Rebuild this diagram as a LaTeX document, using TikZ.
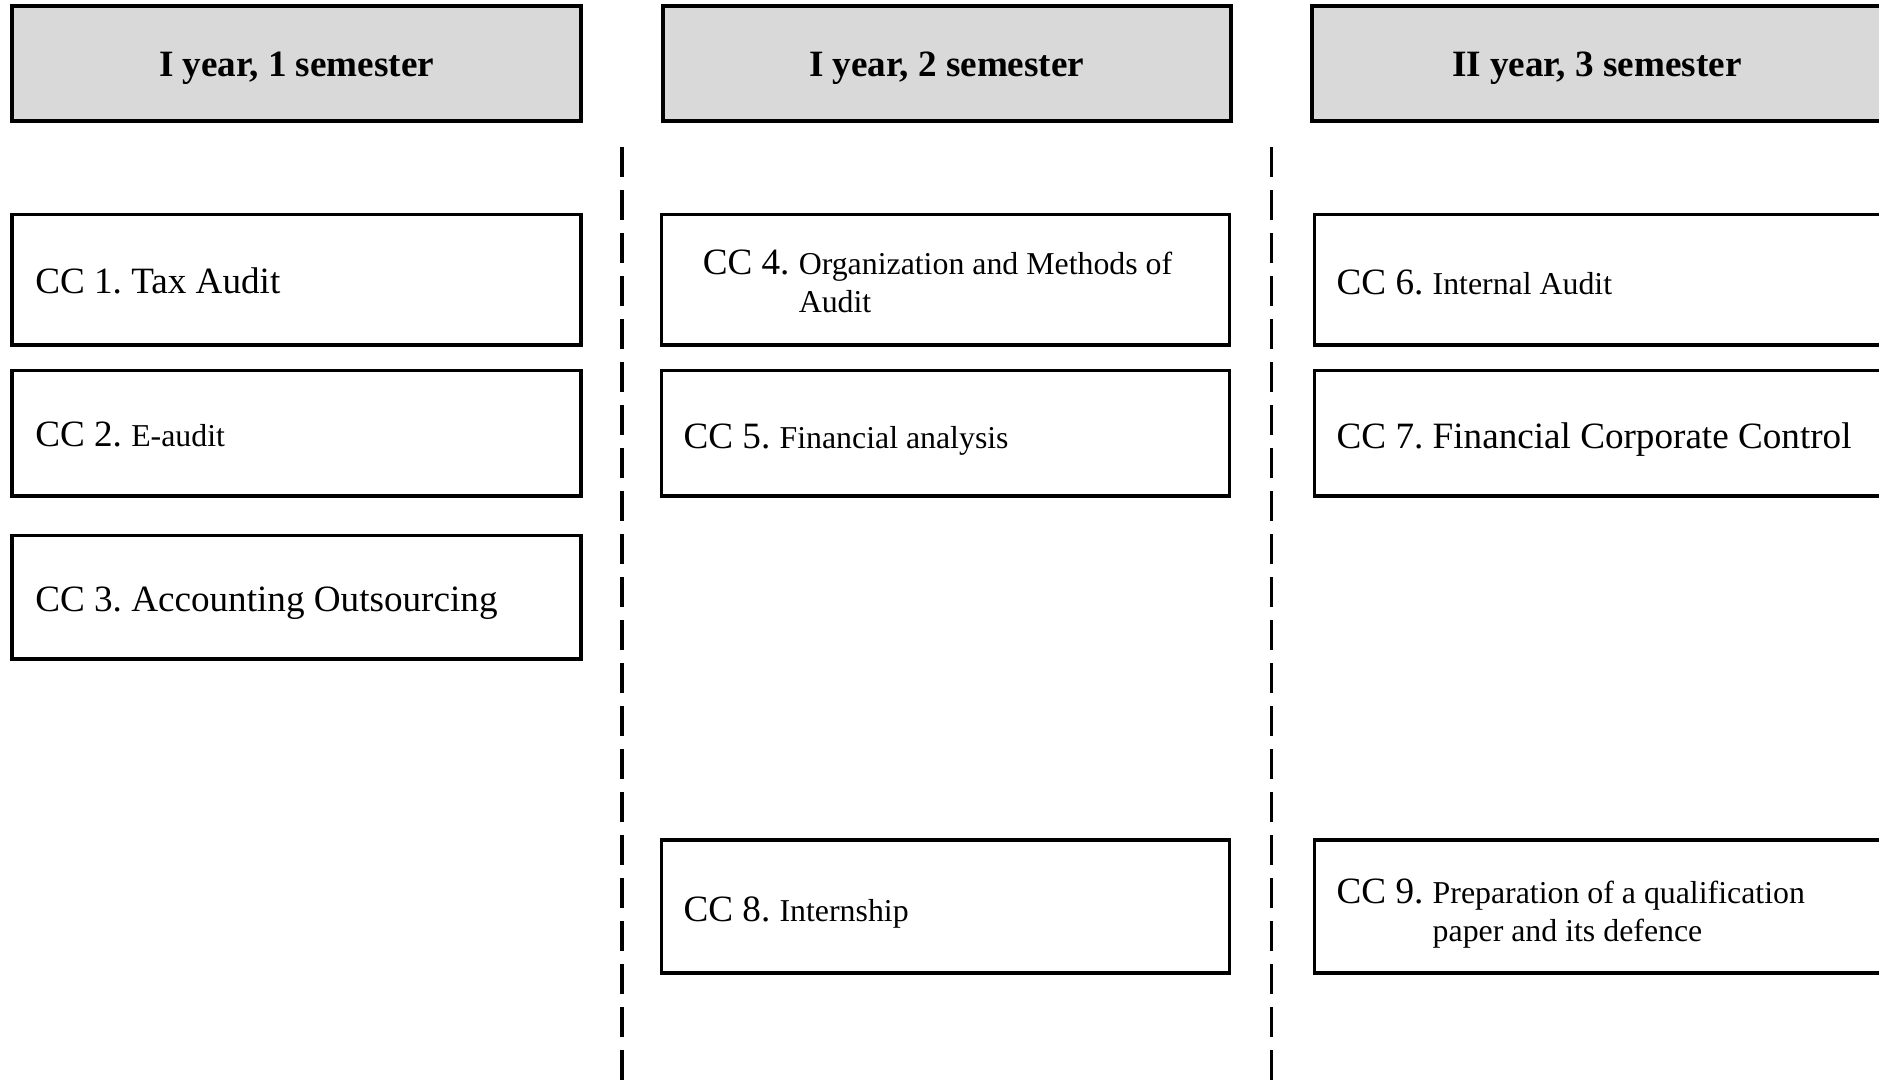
\documentclass[tikz,border=0pt]{standalone}
\usepackage{fontspec}
\setmainfont{Liberation Serif}
\usetikzlibrary{calc}
\frenchspacing
\def\U{0.4516pt}
\newcommand\fsA{\fontsize{14}{16.8}\selectfont}
\newcommand\fsB{\fontsize{12}{14.4}\selectfont}
\definecolor{hdrgray}{HTML}{D9D9D9}
\newcommand\ccbox[5]{\node[cbox, minimum width={(#4-#2)*\U}, minimum height={(#5-#3)*\U}] (#1) at ({(#2+#4)/2},{(#3+#5)/2}) {};}
\newcommand\hdbox[6]{\node[hdr, minimum width={(#4-#2)*\U}, minimum height={(#5-#3)*\U}] (#1) at ({(#2+#4)/2},{(#3+#5)/2}) {#6};}
\begin{document}
\begin{tikzpicture}[x=\U,y=-\U,
  hdr/.style={draw, line width=1.45pt, fill=hdrgray, inner sep=0pt, text height=9.9pt, text depth=0pt, font=\fsA\bfseries},
  cbox/.style={draw, line width=1.35pt, inner sep=0pt},
  ctext/.style={anchor=base west, inner sep=0pt, font=\fsA},
  sep/.style={line width=1.35pt, dash pattern=on 11.3pt off 4.9pt}]
\clip (0,0) rectangle (1568,910);
% headers
\hdbox{h1}{10}{5}{485}{101}{I year, 1 semester}
\hdbox{h2}{553}{5}{1027}{101}{I year, 2 semester}
\hdbox{h3}{1095}{5}{1570}{101}{II year, 3 semester}
% column 1
\ccbox{b1}{10}{179}{485}{288}
\ccbox{b2}{10}{309}{485}{414}
\ccbox{b3}{10}{447}{485}{550}
% column 2
\ccbox{b4}{552}{179}{1026}{288}
\ccbox{b5}{552}{309}{1026}{414}
\ccbox{b8}{552}{701}{1026}{812}
% column 3
\ccbox{b6}{1097}{179}{1572}{288}
\ccbox{b7}{1097}{309}{1572}{414}
\ccbox{b9}{1097}{701}{1572}{812}
% texts
\node[ctext] (t1) at (29,245) {CC 1. Tax Audit};
\node[ctext] (t2) at (29,373) {CC 2. {\fsB E-audit}};
\node[ctext] (t3) at (29,510) {CC 3. Accounting Outsourcing};
\node[ctext, font=\fsB] (t4) at (586,229) {\begin{tabular}[t]{@{}l@{}l@{}}\fsA CC 4.\kern3.5pt & Organization and Methods of\\ & Audit\end{tabular}};
\node[ctext] (t5) at (570,374) {CC 5. {\fsB Financial analysis}};
\node[ctext] (t8) at (570,769) {CC 8. {\fsB Internship}};
\node[ctext] (t6) at (1115,246) {CC 6. {\fsB Internal Audit}};
\node[ctext] (t7) at (1115,374) {CC 7. Financial Corporate Control};
\node[ctext, font=\fsB] (t9) at (1115,754) {\begin{tabular}[t]{@{}l@{}l@{}}\fsA CC 9.\kern3.5pt & Preparation of a qualification\\ & paper and its defence\end{tabular}};
% dashed separators
\coordinate (d1a) at (519,123);
\coordinate (d1b) at (519,915);
\coordinate (d2a) at (1061,123);
\coordinate (d2b) at (1061,915);
\draw[sep] (d1a) -- (d1b);
\draw[sep] (d2a) -- (d2b);
\end{tikzpicture}
\end{document}
